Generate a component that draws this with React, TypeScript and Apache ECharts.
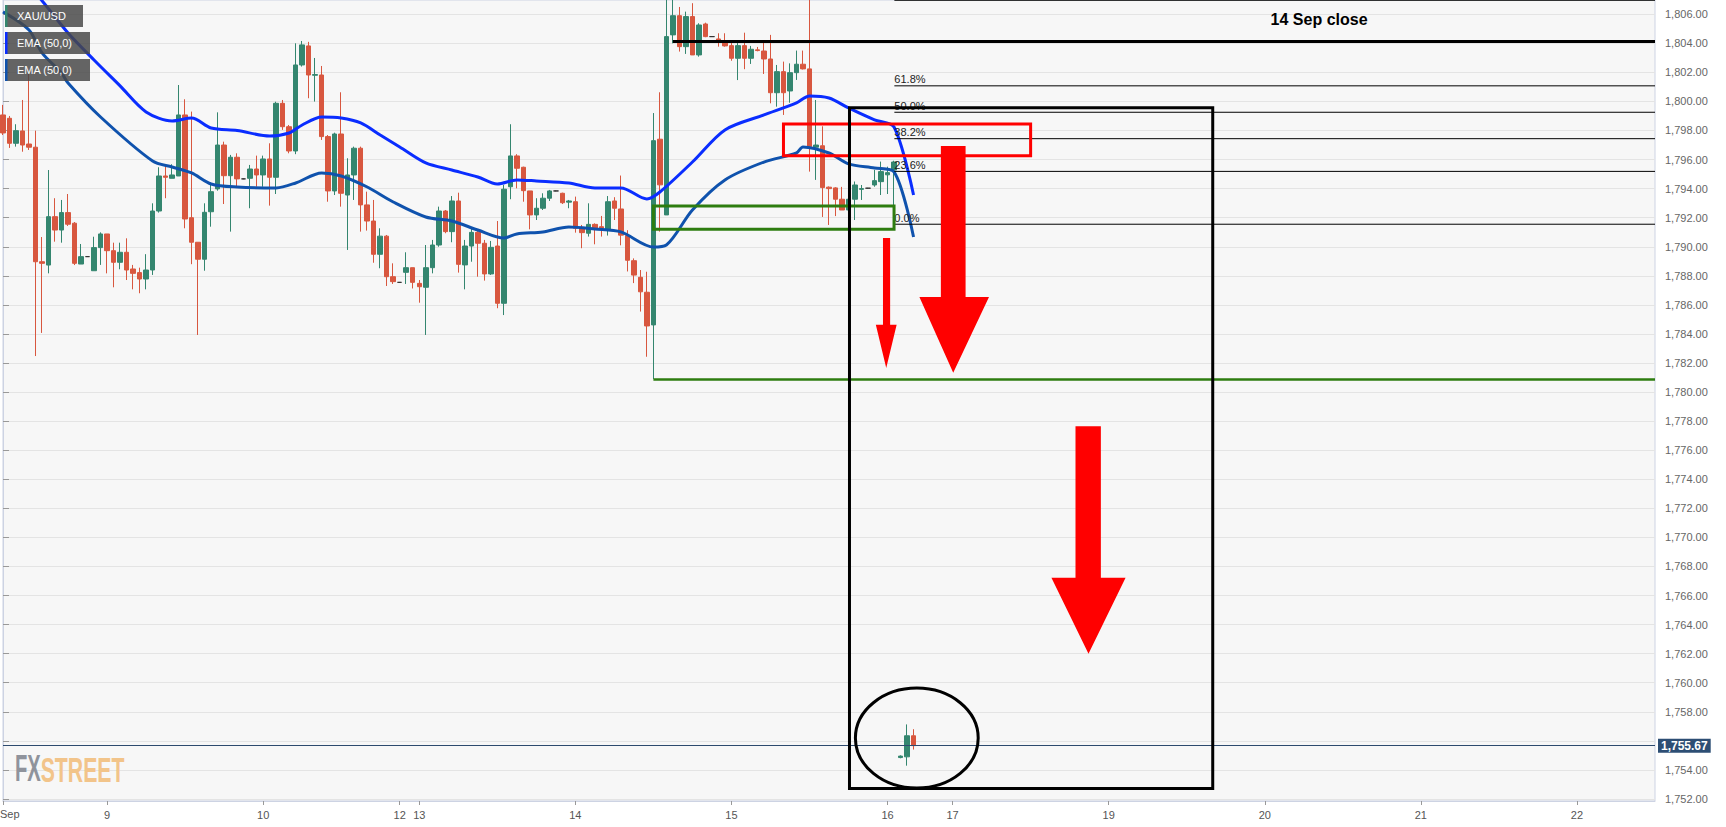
import React, { useEffect, useRef } from 'react';
import * as echarts from 'echarts';

const FONT = '"Liberation Sans", Arial, Helvetica, sans-serif';
const GREEN = '#34866f';
const RED = '#d8573f';
const EMA_FAST_COLOR = '#0a2dff';
const EMA_SLOW_COLOR = '#0f52ad';

// hourly candles: [open, close, low, high], slot index = array index
const candles: number[][] = [
  [1799.07, 1797.83, 1797.69, 1799.76],
  [1798.84, 1797.12, 1796.8, 1799.0],
  [1797.12, 1797.99, 1796.89, 1798.43],
  [1797.97, 1797.0, 1796.54, 1800.1],
  [1797.07, 1796.85, 1796.66, 1801.96],
  [1796.85, 1788.97, 1782.48, 1797.99],
  [1788.97, 1788.86, 1784.07, 1790.67],
  [1788.74, 1792.07, 1788.17, 1795.28],
  [1792.07, 1791.15, 1790.35, 1793.34],
  [1791.15, 1792.35, 1790.28, 1793.22],
  [1792.35, 1791.55, 1791.43, 1793.63],
  [1791.62, 1788.86, 1788.74, 1791.7],
  [1788.81, 1789.32, 1788.81, 1790.19],
  [1789.32, 1789.32, 1789.3, 1789.34],
  [1788.35, 1789.94, 1788.35, 1790.69],
  [1789.94, 1790.88, 1788.75, 1790.99],
  [1790.88, 1789.73, 1788.17, 1790.88],
  [1789.73, 1788.93, 1787.21, 1790.28],
  [1788.93, 1789.62, 1788.45, 1790.28],
  [1789.62, 1788.4, 1787.71, 1790.58],
  [1788.47, 1788.17, 1787.07, 1788.75],
  [1788.22, 1787.78, 1786.8, 1788.56],
  [1787.78, 1788.4, 1787.07, 1789.49],
  [1788.4, 1792.46, 1788.06, 1792.99],
  [1792.46, 1794.87, 1792.35, 1795.47],
  [1794.87, 1794.78, 1793.34, 1795.63],
  [1794.71, 1794.94, 1794.71, 1795.68],
  [1794.87, 1799.07, 1794.87, 1801.13],
  [1799.07, 1791.91, 1791.27, 1800.15],
  [1792.0, 1790.31, 1788.8, 1799.3],
  [1790.31, 1789.14, 1783.93, 1790.31],
  [1789.14, 1792.37, 1788.35, 1792.99],
  [1792.41, 1793.79, 1791.38, 1794.41],
  [1793.98, 1797.0, 1793.86, 1799.25],
  [1797.0, 1794.89, 1792.94, 1797.23],
  [1794.89, 1796.16, 1791.04, 1796.32],
  [1796.16, 1794.67, 1794.13, 1796.43],
  [1794.67, 1794.67, 1794.65, 1794.69],
  [1794.71, 1795.35, 1792.65, 1795.63],
  [1795.35, 1794.94, 1794.13, 1796.27],
  [1794.94, 1796.04, 1794.13, 1796.27],
  [1796.04, 1794.78, 1792.83, 1797.12],
  [1794.78, 1799.87, 1793.63, 1799.98],
  [1799.87, 1798.26, 1798.04, 1800.1],
  [1798.26, 1796.59, 1796.43, 1798.38],
  [1796.59, 1802.51, 1796.37, 1804.0],
  [1802.51, 1803.89, 1802.4, 1804.16],
  [1803.82, 1801.82, 1800.22, 1804.1],
  [1801.8, 1801.85, 1799.99, 1802.99],
  [1801.82, 1797.58, 1797.35, 1802.44],
  [1797.58, 1793.84, 1793.1, 1797.69],
  [1793.84, 1797.76, 1793.56, 1797.85],
  [1797.76, 1793.68, 1792.76, 1800.63],
  [1793.56, 1794.94, 1789.78, 1796.09],
  [1794.94, 1796.78, 1793.22, 1796.89],
  [1796.78, 1792.88, 1791.04, 1796.89],
  [1792.88, 1791.77, 1791.11, 1793.79],
  [1791.77, 1789.48, 1788.9, 1793.22],
  [1789.48, 1790.73, 1788.52, 1791.27],
  [1790.73, 1787.94, 1787.3, 1790.81],
  [1787.94, 1787.6, 1787.44, 1788.86],
  [1787.55, 1787.55, 1787.53, 1787.57],
  [1788.24, 1788.56, 1787.44, 1789.62],
  [1788.56, 1787.55, 1787.13, 1788.56],
  [1787.48, 1787.25, 1786.15, 1787.71],
  [1787.21, 1788.56, 1783.93, 1790.12],
  [1788.56, 1790.12, 1788.17, 1790.47],
  [1790.12, 1792.46, 1790.0, 1792.76],
  [1792.46, 1791.04, 1790.93, 1792.53],
  [1791.04, 1793.15, 1790.31, 1793.49],
  [1793.15, 1788.79, 1788.22, 1793.72],
  [1788.75, 1790.05, 1787.07, 1790.47],
  [1790.05, 1790.99, 1788.97, 1791.27],
  [1790.99, 1790.24, 1787.94, 1791.15],
  [1790.24, 1788.13, 1787.67, 1790.47],
  [1788.13, 1789.96, 1788.06, 1790.4],
  [1790.05, 1786.11, 1785.77, 1791.77],
  [1786.11, 1793.96, 1785.3, 1794.25],
  [1794.13, 1796.25, 1793.27, 1798.43],
  [1796.25, 1795.4, 1794.02, 1796.37],
  [1795.47, 1793.86, 1793.1, 1795.51],
  [1793.84, 1792.19, 1791.2, 1793.84],
  [1792.19, 1792.65, 1791.84, 1793.34],
  [1792.65, 1793.34, 1792.53, 1793.68],
  [1793.34, 1793.84, 1793.15, 1793.91],
  [1793.84, 1793.84, 1793.82, 1793.86],
  [1793.68, 1793.03, 1792.94, 1793.72],
  [1793.07, 1793.15, 1792.65, 1793.22],
  [1793.1, 1791.27, 1790.97, 1793.45],
  [1791.27, 1790.97, 1789.9, 1791.5],
  [1790.93, 1791.54, 1790.7, 1792.99],
  [1791.54, 1791.27, 1790.17, 1791.61],
  [1791.38, 1791.27, 1790.7, 1792.12],
  [1791.15, 1793.1, 1790.77, 1793.49],
  [1793.15, 1792.65, 1791.84, 1793.41],
  [1792.6, 1790.8, 1790.1, 1794.9],
  [1790.77, 1789.07, 1788.3, 1791.14],
  [1789.04, 1788.05, 1787.5, 1789.2],
  [1787.9, 1786.9, 1785.54, 1788.4],
  [1786.87, 1784.55, 1782.43, 1788.28],
  [1784.62, 1797.3, 1780.9, 1799.2],
  [1797.4, 1794.26, 1791.04, 1800.63],
  [1792.19, 1804.46, 1792.19, 1808.0],
  [1804.58, 1805.9, 1804.0, 1808.0],
  [1805.9, 1803.77, 1803.43, 1806.5],
  [1803.77, 1805.84, 1803.27, 1806.18],
  [1805.84, 1803.2, 1803.2, 1806.76],
  [1803.2, 1805.26, 1803.08, 1805.38],
  [1805.33, 1804.46, 1804.42, 1805.42],
  [1804.46, 1804.46, 1804.44, 1804.48],
  [1804.3, 1804.18, 1803.77, 1804.69],
  [1804.18, 1803.82, 1803.77, 1804.69],
  [1803.84, 1802.97, 1802.8, 1804.11],
  [1802.97, 1803.84, 1801.47, 1804.11],
  [1803.84, 1802.97, 1802.22, 1804.73],
  [1802.97, 1803.59, 1802.58, 1803.82],
  [1803.55, 1803.5, 1803.45, 1803.75],
  [1803.47, 1802.92, 1801.89, 1804.11],
  [1802.92, 1800.6, 1799.87, 1804.58],
  [1800.6, 1802.05, 1799.64, 1802.51],
  [1802.05, 1800.6, 1799.07, 1802.74],
  [1800.72, 1801.98, 1799.91, 1802.62],
  [1801.98, 1802.56, 1801.48, 1803.5],
  [1802.56, 1802.24, 1802.2, 1803.5],
  [1802.24, 1796.89, 1795.17, 1807.0],
  [1796.85, 1797.0, 1794.6, 1800.1],
  [1796.95, 1794.07, 1792.05, 1798.29],
  [1794.1, 1794.0, 1791.5, 1794.15],
  [1794.05, 1793.27, 1792.11, 1794.1],
  [1793.27, 1792.53, 1792.53, 1794.12],
  [1792.53, 1793.27, 1792.4, 1793.4],
  [1793.27, 1794.25, 1791.84, 1794.49],
  [1793.95, 1794.0, 1793.22, 1794.25],
  [1794.03, 1794.03, 1794.01, 1794.05],
  [1794.25, 1794.55, 1794.13, 1795.29],
  [1794.48, 1795.17, 1793.56, 1795.86],
  [1794.95, 1795.1, 1793.63, 1795.51],
  [1795.28, 1795.83, 1792.8, 1795.92],
  [1754.85, 1754.95, 1754.8, 1755.0],
  [1754.9, 1756.35, 1754.29, 1757.13],
  [1756.35, 1755.67, 1755.4, 1756.8],
];

// EMA readings [slot, value]
const emaFastPts: number[][] = [
  [0, 1810.0], [6, 1806.93], [10, 1804.71], [14, 1802.85], [18, 1801.07], [22, 1799.28],
  [26, 1798.66], [29, 1798.86], [32, 1798.17], [36, 1798.0], [41, 1797.62], [44, 1797.83],
  [46, 1798.38], [49, 1798.93], [52, 1798.86], [55, 1798.52], [58, 1797.69], [61, 1796.87],
  [65, 1795.77], [69, 1795.28], [73, 1794.8], [76, 1794.32], [79, 1794.6], [82, 1794.53],
  [87, 1794.39], [91, 1794.05], [95, 1794.05], [99, 1793.29], [101, 1793.77], [106, 1795.83],
  [111, 1798.04], [117, 1799.07], [122, 1799.9], [124, 1800.38], [127, 1800.24], [130, 1799.55],
  [134, 1798.73], [137, 1798.24], [140, 1793.56],
];
const emaSlowPts: number[][] = [
  [0, 1806.16], [4, 1804.92], [6, 1803.34], [9, 1801.96], [10, 1801.27], [15, 1798.93],
  [23, 1795.9], [26, 1795.49], [29, 1795.08], [32, 1794.32], [36, 1794.11], [42, 1794.05],
  [45, 1794.39], [49, 1795.08], [52, 1794.87], [56, 1794.11], [60, 1793.08], [65, 1792.05],
  [69, 1791.77], [73, 1791.15], [77, 1790.6], [79, 1790.88], [83, 1791.02], [87, 1791.36],
  [91, 1791.22], [95, 1791.02], [100, 1789.98], [102, 1790.12], [106, 1792.53], [111, 1794.6],
  [117, 1795.83], [122, 1796.45], [123, 1796.87], [127, 1796.45], [130, 1795.7], [134, 1795.42],
  [137, 1795.15], [140, 1790.67],
];

const SLOTS = 255;
const axisMarks: [number, string][] = [
  [0, ''], [16, '9'], [40, '10'], [61, '12'], [64, '13'], [88, '14'], [112, '15'],
  [136, '16'], [146, '17'], [170, '19'], [194, '20'], [218, '21'], [242, '22'],
];
const priceTicks = [
  1752, 1754, 1756, 1758, 1760, 1762, 1764, 1766, 1768, 1770, 1772, 1774, 1776, 1778,
  1780, 1782, 1784, 1786, 1788, 1790, 1792, 1794, 1796, 1798, 1800, 1802, 1804, 1806,
];
// 1,756.00 sits under the last-price box, as in the source
const priceLabels = priceTicks.filter((v) => v !== 1756);
const yMin = 1751.86;
const yMax = 1806.98;
const lastPrice = 1755.67;

// annotations (slot, price)
const fibLevels = [0, 23.6, 38.2, 50.0, 61.8, 100];
const fibLow = 1791.55;
const fibHigh = 1806.96;
const fibStartK = 137.05;
const closeLevel = 1804.13;
const closeStartK = 103;
const closeLabel = { k: 194.9, p: 1805.61, text: '14 Sep close' };
const supportLevel = 1780.87;
const supportStartK = 100;
const redBox = { k0: 120.0, k1: 158.0, p0: 1798.45, p1: 1796.27 };
const greenBox = { k0: 100.0, k1: 137.0, p0: 1792.81, p1: 1791.21 };
const bigBox = { k0: 130.15, k1: 186.0, p0: 1799.57, p1: 1752.72 };
const ellipseBox = { k0: 131.06, k1: 149.94, p0: 1759.63, p1: 1752.75 };
const arrows = [
  { shaftL: 135.3, shaftR: 136.4, headL: 134.2, headR: 137.4, tipK: 135.8, top: 1790.6, base: 1784.63, tip: 1781.66 },
  { shaftL: 144.2, shaftR: 148.0, headL: 140.9, headR: 151.6, tipK: 146.1, top: 1796.94, base: 1786.55, tip: 1781.33 },
  { shaftL: 164.9, shaftR: 168.8, headL: 161.2, headR: 172.6, tipK: 166.9, top: 1777.64, base: 1767.23, tip: 1762.0 },
];

function toSeries(pts: number[][]) {
  const arr: (number | null)[] = new Array(candles.length).fill(null);
  pts.forEach(([k, v]) => { arr[k] = v; });
  return arr;
}

function fmtPrice(v: number) {
  return v.toLocaleString('en-US', { minimumFractionDigits: 2, maximumFractionDigits: 2 });
}

function buildOption() {
  const categories: string[] = new Array(SLOTS).fill('').map((_, i) => {
    const m = axisMarks.find((a) => a[0] === i);
    return m ? m[1] : '';
  });
  const markSet = new Set(axisMarks.map((a) => a[0]));

  const legendItems = [
    { y: 5, w: 78, text: 'XAU/USD', color: GREEN },
    { y: 32, w: 85, text: 'EMA (50,0)', color: EMA_FAST_COLOR },
    { y: 59, w: 85, text: 'EMA (50,0)', color: EMA_SLOW_COLOR },
  ];
  const graphic: any[] = [];
  legendItems.forEach((it) => {
    graphic.push({ type: 'rect', z: 100, shape: { x: 5, y: it.y, width: it.w, height: 22 }, style: { fill: 'rgba(72,72,72,0.84)' } });
    graphic.push({ type: 'rect', z: 101, shape: { x: 5, y: it.y, width: 2.5, height: 22 }, style: { fill: it.color } });
    graphic.push({ type: 'text', z: 101, x: 17, y: it.y + 11, style: { text: it.text, fill: '#ffffff', font: '11px ' + FONT, textAlign: 'left', textVerticalAlign: 'middle' } });
  });
  graphic.push({ type: 'text', z: 5, x: 15, y: 769, scaleX: 0.56, style: { text: 'FX', fill: '#8f939c', font: 'bold 36px ' + FONT, textAlign: 'left', textVerticalAlign: 'middle' } });
  graphic.push({ type: 'text', z: 5, x: 40.7, y: 769, scaleX: 0.59, style: { text: 'STREET', fill: '#f2c48a', font: 'bold 36px ' + FONT, textAlign: 'left', textVerticalAlign: 'middle' } });
  graphic.push({ type: 'text', z: 5, x: 0, y: 814, style: { text: 'Sep', fill: '#555', font: '11px ' + FONT, textAlign: 'left', textVerticalAlign: 'middle' } });

  const annotationSeries = {
    type: 'custom',
    xAxisIndex: 1,
    yAxisIndex: 0,
    silent: true,
    z: 10,
    clip: false,
    data: [[0, 1780]],
    renderItem: (_params: any, api: any) => {
      const c = (k: number, p: number) => api.coord([k, p]);
      const ch: any[] = [];
      const hline = (k0: number, k1: number, p: number, color: string, w: number) => {
        const a = c(k0, p);
        const b = c(k1, p);
        ch.push({ type: 'line', shape: { x1: a[0], y1: a[1], x2: b[0], y2: b[1] }, style: { stroke: color, lineWidth: w } });
      };
      const box = (b: any, color: string, w: number) => {
        const a = c(b.k0, b.p0);
        const d = c(b.k1, b.p1);
        ch.push({ type: 'rect', shape: { x: a[0], y: a[1], width: d[0] - a[0], height: d[1] - a[1] }, style: { fill: 'none', stroke: color, lineWidth: w } });
      };
      fibLevels.forEach((l) => {
        const p = fibLow + ((fibHigh - fibLow) * l) / 100;
        hline(fibStartK, SLOTS - 1, p, '#000', 1);
        if (l < 100) {
          const a = c(fibStartK, p);
          ch.push({ type: 'text', x: a[0], y: a[1] - 1, style: { text: l.toFixed(1) + '%', fill: '#222', font: '11px ' + FONT, textAlign: 'left', textVerticalAlign: 'bottom' } });
        }
      });
      hline(closeStartK, SLOTS - 1, closeLevel, '#000', 3);
      const cl = c(closeLabel.k, closeLabel.p);
      ch.push({ type: 'text', x: cl[0], y: cl[1], style: { text: closeLabel.text, fill: '#000', font: 'bold 16px ' + FONT, textAlign: 'left', textVerticalAlign: 'middle' } });
      hline(supportStartK, SLOTS - 1, supportLevel, '#2e7d10', 2.5);
      box(greenBox, '#2e7d10', 3);
      box(redBox, '#ff0000', 3);
      box(bigBox, '#000', 3);
      const e0 = c(ellipseBox.k0, ellipseBox.p0);
      const e1 = c(ellipseBox.k1, ellipseBox.p1);
      ch.push({ type: 'ellipse', shape: { cx: (e0[0] + e1[0]) / 2, cy: (e0[1] + e1[1]) / 2, rx: (e1[0] - e0[0]) / 2, ry: (e1[1] - e0[1]) / 2 }, style: { fill: 'none', stroke: '#000', lineWidth: 3 } });
      arrows.forEach((a) => {
        const pts = [
          c(a.shaftL, a.top), c(a.shaftR, a.top), c(a.shaftR, a.base), c(a.headR, a.base),
          c(a.tipK, a.tip), c(a.headL, a.base), c(a.shaftL, a.base),
        ];
        ch.push({ type: 'polygon', shape: { points: pts }, style: { fill: '#ff0000' } });
      });
      return { type: 'group', children: ch };
    },
  };

  return {
    animation: false,
    backgroundColor: '#ffffff',
    textStyle: { fontFamily: FONT },
    grid: {
      left: 0, right: 71, top: 0, bottom: 26,
      show: true, backgroundColor: '#f7f7f7', borderColor: '#cdd3e3', borderWidth: 1,
    },
    xAxis: [
      {
        type: 'category',
        data: categories,
        boundaryGap: false,
        axisLine: { show: true, lineStyle: { color: '#cdd3e3' } },
        axisTick: { show: true, length: 4, lineStyle: { color: '#999' }, interval: (i: number) => markSet.has(i) },
        axisLabel: { show: true, interval: (i: number) => markSet.has(i), color: '#555', fontSize: 11, margin: 8, fontFamily: FONT },
        splitLine: { show: false },
      },
      { type: 'value', min: 0, max: SLOTS - 1, show: false },
    ],
    yAxis: {
      type: 'value',
      position: 'right',
      min: yMin,
      max: yMax,
      axisLine: { show: true, lineStyle: { color: '#cdd3e3' } },
      axisTick: { show: true, length: 6, lineStyle: { color: '#999' }, customValues: priceTicks },
      axisLabel: { show: true, customValues: priceLabels, color: '#666', fontSize: 11, margin: 10, fontFamily: FONT, formatter: (v: number) => fmtPrice(v) },
      splitLine: { show: true, lineStyle: { color: '#e4e4e4', width: 1 } },
    },
    graphic,
    series: [
      {
        type: 'candlestick',
        xAxisIndex: 0,
        yAxisIndex: 0,
        data: candles,
        barWidth: 5,
        itemStyle: {
          color: GREEN, color0: RED, borderColor: GREEN, borderColor0: RED,
          borderColorDoji: '#333', borderWidth: 1,
        },
        markLine: {
          silent: true,
          symbol: ['none', 'none'],
          data: [{ yAxis: lastPrice }],
          lineStyle: { color: '#2d4a6e', width: 1, type: 'solid' },
          label: {
            show: true, position: 'end', distance: 3,
            formatter: () => fmtPrice(lastPrice),
            color: '#fff', backgroundColor: '#2d4e74', fontWeight: 'bold', fontSize: 12,
            padding: [1, 3], fontFamily: FONT,
          },
        },
      },
      {
        type: 'line', name: 'EMA fast', xAxisIndex: 0, yAxisIndex: 0,
        data: toSeries(emaFastPts), connectNulls: true, showSymbol: false, smooth: 0.3,
        lineStyle: { color: EMA_FAST_COLOR, width: 3 }, z: 3,
      },
      {
        type: 'line', name: 'EMA slow', xAxisIndex: 0, yAxisIndex: 0,
        data: toSeries(emaSlowPts), connectNulls: true, showSymbol: false, smooth: 0.3,
        lineStyle: { color: EMA_SLOW_COLOR, width: 3 }, z: 3,
      },
      annotationSeries,
    ],
  };
}

export default function App() {
  const ref = useRef<HTMLDivElement>(null);
  useEffect(() => {
    document.body.style.margin = '0';
    document.body.style.overflow = 'hidden';
    const chart = echarts.init(ref.current as HTMLDivElement, null, { renderer: 'svg' });
    chart.setOption(buildOption() as any);
    return () => chart.dispose();
  }, []);
  return <div ref={ref} style={{ width: 1726, height: 827, background: '#ffffff' }} />;
}
